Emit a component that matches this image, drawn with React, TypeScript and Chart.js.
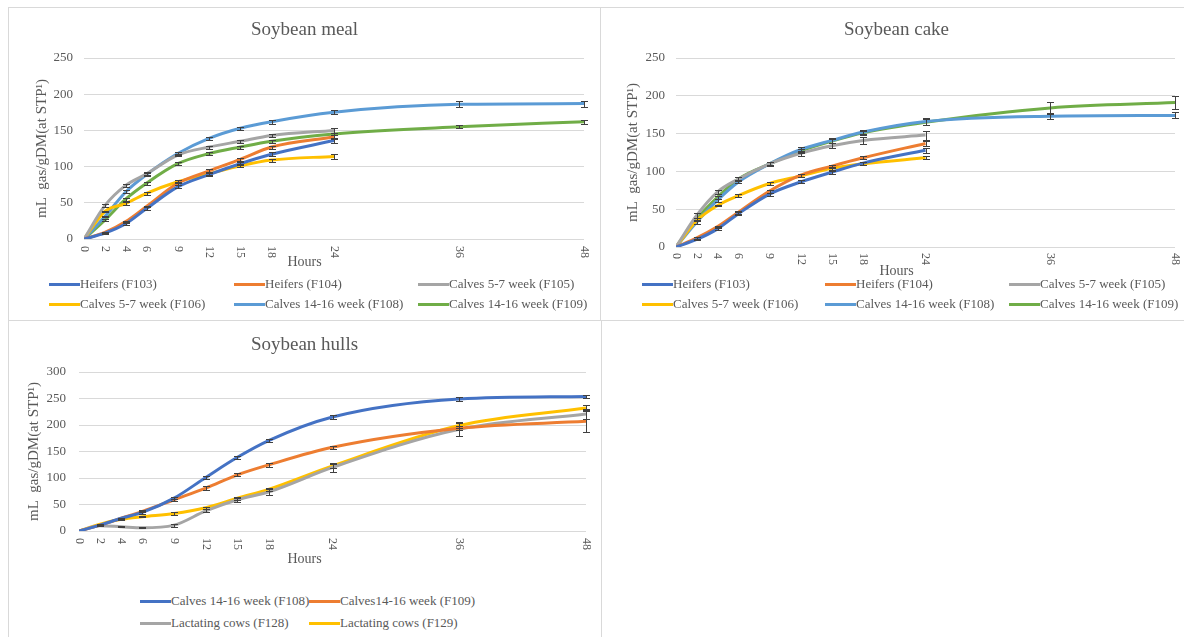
import React, { useEffect, useRef } from "react";
import { Chart, registerables } from "chart.js";

Chart.register(...registerables);

const FONT = "'Liberation Serif', 'Times New Roman', serif";
const TEXT = "#595959";
const GRID = "#d9d9d9";

// Hours at which gas production was measured (also the x tick labels)
const hourTicks = [0, 2, 4, 6, 9, 12, 15, 18, 24, 36, 48];
const hours24 = [0, 2, 4, 6, 9, 12, 15, 18, 24];
const hours48 = [0, 2, 4, 6, 9, 12, 15, 18, 24, 36, 48];

// ---------- Soybean meal ----------
const mealF103 = [0, 8, 21, 42, 72, 89, 104, 117, 136];
const mealF104 = [0, 9, 24, 45, 77, 94, 110, 127, 141];
const mealF105 = [0, 46, 74, 90, 116, 127, 135, 143, 150];
const mealF106 = [0, 38, 49, 63, 79, 90, 101, 109, 114];
const mealF108 = [0, 31, 65, 89, 118, 139, 153, 162, 175, 186, 187];
const mealF109 = [0, 26, 55, 77, 104, 118, 127, 135, 145, 155, 162];
const mealErrF103 = [0, 1, 1, 2, 2, 2, 2, 3, 4];
const mealErrF104 = [0, 1, 1, 1, 2, 2, 2, 2, 3];
const mealErrF105 = [0, 2, 2, 2, 2, 2, 2, 2, 3];
const mealErrF106 = [0, 1, 2, 2, 2, 2, 2, 2, 3];
const mealErrF108 = [0, 1, 2, 2, 2, 2, 2, 3, 3, 4, 4];
const mealErrF109 = [0, 1, 2, 2, 2, 2, 2, 2, 2, 2, 3];

// ---------- Soybean cake ----------
const cakeF103 = [0, 10, 24, 44, 70, 86, 99, 111, 128];
const cakeF104 = [0, 12, 27, 46, 74, 95, 107, 118, 137];
const cakeF105 = [0, 42, 73, 90, 110, 124, 134, 141, 148];
const cakeF106 = [0, 35, 55, 68, 84, 94, 104, 110, 118];
const cakeF108 = [0, 33, 62, 86, 110, 129, 141, 152, 166, 173, 174];
const cakeF109 = [0, 37, 66, 90, 110, 127, 140, 151, 165, 184, 191];
const cakeErrF103 = [0, 1, 1, 2, 2, 2, 2, 2, 3];
const cakeErrF104 = [0, 1, 1, 2, 2, 2, 2, 2, 3];
const cakeErrF105 = [0, 3, 3, 3, 3, 3, 3, 5, 6];
const cakeErrF106 = [0, 1, 1, 2, 2, 2, 2, 2, 2];
const cakeErrF108 = [0, 2, 2, 2, 2, 3, 3, 3, 4, 4, 4];
const cakeErrF109 = [0, 2, 2, 2, 2, 3, 3, 3, 4, 8, 9];

// ---------- Soybean hulls ----------
const hullsF108 = [0, 11, 24, 35, 62, 101, 139, 171, 215, 249, 254];
const hullsF109 = [0, 11, 24, 37, 59, 81, 106, 125, 158, 194, 207];
const hullsF128 = [0, 10, 8, 6, 11, 38, 59, 74, 120, 192, 221];
const hullsF129 = [0, 13, 22, 27, 33, 44, 62, 79, 123, 199, 232];
const hullsErrF108 = [0, 1, 1, 2, 2, 3, 3, 3, 3, 3, 3];
const hullsErrF109 = [0, 1, 1, 2, 2, 3, 3, 4, 3, 4, 21];
const hullsErrF128 = [0, 1, 1, 1, 3, 3, 4, 6, 9, 13, 10];
const hullsErrF129 = [0, 1, 1, 1, 2, 2, 3, 3, 4, 5, 5];

type Series = { label: string; color: string; hours: number[]; values: number[]; errors: number[] };

const mealSeries: Series[] = [
  { label: "Heifers (F103)", color: "#4472C4", hours: hours24, values: mealF103, errors: mealErrF103 },
  { label: "Heifers (F104)", color: "#ED7D31", hours: hours24, values: mealF104, errors: mealErrF104 },
  { label: "Calves 5-7 week (F105)", color: "#A5A5A5", hours: hours24, values: mealF105, errors: mealErrF105 },
  { label: "Calves 5-7 week (F106)", color: "#FFC000", hours: hours24, values: mealF106, errors: mealErrF106 },
  { label: "Calves 14-16 week (F108)", color: "#5B9BD5", hours: hours48, values: mealF108, errors: mealErrF108 },
  { label: "Calves 14-16 week (F109)", color: "#70AD47", hours: hours48, values: mealF109, errors: mealErrF109 },
];

const cakeSeries: Series[] = [
  { label: "Heifers (F103)", color: "#4472C4", hours: hours24, values: cakeF103, errors: cakeErrF103 },
  { label: "Heifers (F104)", color: "#ED7D31", hours: hours24, values: cakeF104, errors: cakeErrF104 },
  { label: "Calves 5-7 week (F105)", color: "#A5A5A5", hours: hours24, values: cakeF105, errors: cakeErrF105 },
  { label: "Calves 5-7 week (F106)", color: "#FFC000", hours: hours24, values: cakeF106, errors: cakeErrF106 },
  { label: "Calves 14-16 week (F108)", color: "#5B9BD5", hours: hours48, values: cakeF108, errors: cakeErrF108 },
  { label: "Calves 14-16 week (F109)", color: "#70AD47", hours: hours48, values: cakeF109, errors: cakeErrF109 },
];

const hullsSeries: Series[] = [
  { label: "Calves 14-16 week (F108)", color: "#4472C4", hours: hours48, values: hullsF108, errors: hullsErrF108 },
  { label: "Calves14-16 week (F109)", color: "#ED7D31", hours: hours48, values: hullsF109, errors: hullsErrF109 },
  { label: "Lactating cows (F128)", color: "#A5A5A5", hours: hours48, values: hullsF128, errors: hullsErrF128 },
  { label: "Lactating cows (F129)", color: "#FFC000", hours: hours48, values: hullsF129, errors: hullsErrF129 },
];

type PanelCfg = {
  id: string;
  title: string;
  series: Series[];
  yMax: number;
  left: number;
  top: number;
  width: number;
  height: number;
  plotLeft: number;
  plotRight: number;
  plotTop: number;
  plotBottom: number;
  tickPad: number;
  titleY: number;
  hoursY: number;
  labelGap: number;
  yTitleX: number;
  legendCols: number[];
  legendRows: number[];
};

const Y_TITLE = "mL  gas/gDM(at STP\u00B9)";

const panels: PanelCfg[] = [
  {
    id: "meal", title: "Soybean meal", series: mealSeries, yMax: 250,
    left: 9, top: 8, width: 591, height: 272,
    plotLeft: 75, plotRight: 575, plotTop: 50, plotBottom: 231,
    tickPad: 11, titleY: 22, hoursY: 254, labelGap: 7, yTitleX: 33,
    legendCols: [49, 234, 418], legendRows: [284, 304],
  },
  {
    id: "cake", title: "Soybean cake", series: cakeSeries, yMax: 250,
    left: 601, top: 8, width: 591, height: 272,
    plotLeft: 75, plotRight: 574, plotTop: 50, plotBottom: 239,
    tickPad: 11, titleY: 22, hoursY: 263, labelGap: 6, yTitleX: 32,
    legendCols: [642, 825, 1009], legendRows: [284, 304],
  },
  {
    id: "hulls", title: "Soybean hulls", series: hullsSeries, yMax: 300,
    left: 9, top: 321, width: 591, height: 252,
    plotLeft: 70, plotRight: 577, plotTop: 51, plotBottom: 210,
    tickPad: 13, titleY: 24, hoursY: 238, labelGap: 7, yTitleX: 25,
    legendCols: [140, 309], legendRows: [601, 623],
  },
];

function ChartPanel({ cfg }: { cfg: PanelCfg }) {
  const ref = useRef<HTMLCanvasElement>(null);

  useEffect(() => {
    const canvas = ref.current;
    if (!canvas) return;

    const decor = {
      id: "decor",
      afterDatasetsDraw(chart: any) {
        const { ctx } = chart;
        const xs = chart.scales.x;
        const ys = chart.scales.y;
        ctx.save();
        ctx.strokeStyle = "#404040";
        ctx.lineWidth = 1;
        cfg.series.forEach((s) => {
          s.hours.forEach((h, i) => {
            const e = s.errors[i];
            if (!e) return;
            const px = Math.round(xs.getPixelForValue(h)) + 0.5;
            const y1 = Math.round(ys.getPixelForValue(s.values[i] + e)) + 0.5;
            const y2 = Math.round(ys.getPixelForValue(s.values[i] - e)) + 0.5;
            ctx.beginPath();
            ctx.moveTo(px, y1);
            ctx.lineTo(px, y2);
            ctx.moveTo(px - 3.5, y1);
            ctx.lineTo(px + 3.5, y1);
            ctx.moveTo(px - 3.5, y2);
            ctx.lineTo(px + 3.5, y2);
            ctx.stroke();
          });
        });
        ctx.restore();
      },
      afterDraw(chart: any) {
        const { ctx, chartArea } = chart;
        const xs = chart.scales.x;
        const cx = chart.width / 2;
        ctx.save();
        ctx.fillStyle = TEXT;
        // title
        ctx.font = `19px ${FONT}`;
        ctx.textAlign = "center";
        ctx.textBaseline = "middle";
        ctx.fillText(cfg.title, cx, cfg.titleY);
        // x tick labels, rotated clockwise
        ctx.font = `12px ${FONT}`;
        hourTicks.forEach((h) => {
          const px = xs.getPixelForValue(h);
          ctx.save();
          ctx.translate(px, chartArea.bottom + cfg.labelGap);
          ctx.rotate(Math.PI / 2);
          ctx.textAlign = "left";
          ctx.textBaseline = "middle";
          ctx.fillText(String(h), 0, 0);
          ctx.restore();
        });
        // x axis title
        ctx.font = `14px ${FONT}`;
        ctx.textAlign = "center";
        ctx.textBaseline = "middle";
        ctx.fillText("Hours", cx, cfg.hoursY);
        // y axis title
        ctx.save();
        ctx.translate(cfg.yTitleX, (chartArea.top + chartArea.bottom) / 2);
        ctx.rotate(-Math.PI / 2);
        ctx.font = `15px ${FONT}`;
        ctx.textAlign = "center";
        ctx.textBaseline = "middle";
        ctx.fillText(Y_TITLE, 0, 0);
        ctx.restore();
        ctx.restore();
      },
    };

    const chart = new Chart(canvas, {
      type: "line",
      data: {
        datasets: cfg.series.map((s) => ({
          label: s.label,
          data: s.hours.map((h, i) => ({ x: h, y: s.values[i] })),
          borderColor: s.color,
          backgroundColor: s.color,
          borderWidth: 3,
          pointRadius: 0,
          pointHoverRadius: 0,
          cubicInterpolationMode: "monotone",
          fill: false,
        })),
      },
      options: {
        responsive: false,
        animation: false,
        devicePixelRatio: 1,
        events: [],
        layout: {
          padding: { left: 0, right: cfg.width - cfg.plotRight, top: cfg.plotTop, bottom: 0 },
        },
        plugins: {
          legend: { display: false },
          tooltip: { enabled: false },
          title: { display: false },
        },
        scales: {
          x: {
            type: "linear",
            min: 0,
            max: 48,
            ticks: { display: false },
            grid: { display: false },
            border: { display: false },
            afterFit: (s: any) => {
              s.height = cfg.height - cfg.plotBottom;
            },
          },
          y: {
            type: "linear",
            min: 0,
            max: cfg.yMax,
            ticks: {
              stepSize: 50,
              color: TEXT,
              font: { family: FONT, size: 13 },
              padding: cfg.tickPad,
            },
            grid: { color: GRID, drawTicks: false, lineWidth: 1 },
            border: { display: false },
            afterFit: (s: any) => {
              s.width = cfg.plotLeft;
            },
          },
        },
      } as any,
      plugins: [decor],
    });
    return () => chart.destroy();
  }, [cfg]);

  return (
    <canvas
      ref={ref}
      width={cfg.width}
      height={cfg.height}
      style={{ position: "absolute", left: cfg.left, top: cfg.top, width: cfg.width, height: cfg.height, display: "block" }}
    />
  );
}

function Legend({ cfg }: { cfg: PanelCfg }) {
  const n = cfg.legendCols.length;
  return (
    <>
      {cfg.series.map((s, i) => (
        <div
          key={s.label + i}
          style={{
            position: "absolute",
            left: cfg.legendCols[i % n],
            top: cfg.legendRows[Math.floor(i / n)] - 9,
            height: 18,
            display: "flex",
            alignItems: "center",
            whiteSpace: "nowrap",
          }}
        >
          <span style={{ display: "inline-block", width: 31, height: 3, background: s.color }} />
          <span style={{ fontFamily: FONT, fontSize: 13, color: TEXT, lineHeight: "18px" }}>{s.label}</span>
        </div>
      ))}
    </>
  );
}

export default function App() {
  const border = `1px solid ${GRID}`;
  return (
    <div
      style={{
        position: "fixed",
        left: 0,
        top: 0,
        width: 1184,
        height: 637,
        overflow: "hidden",
        background: "#fff",
      }}
    >
      <div style={{ position: "absolute", left: 8, top: 7, width: 593, height: 314, border, boxSizing: "border-box" }} />
      <div style={{ position: "absolute", left: 600, top: 7, width: 600, height: 314, border, boxSizing: "border-box" }} />
      <div style={{ position: "absolute", left: 8, top: 320, width: 594, height: 330, border, boxSizing: "border-box" }} />
      {panels.map((p) => (
        <React.Fragment key={p.id}>
          <ChartPanel cfg={p} />
          <Legend cfg={p} />
        </React.Fragment>
      ))}
    </div>
  );
}
